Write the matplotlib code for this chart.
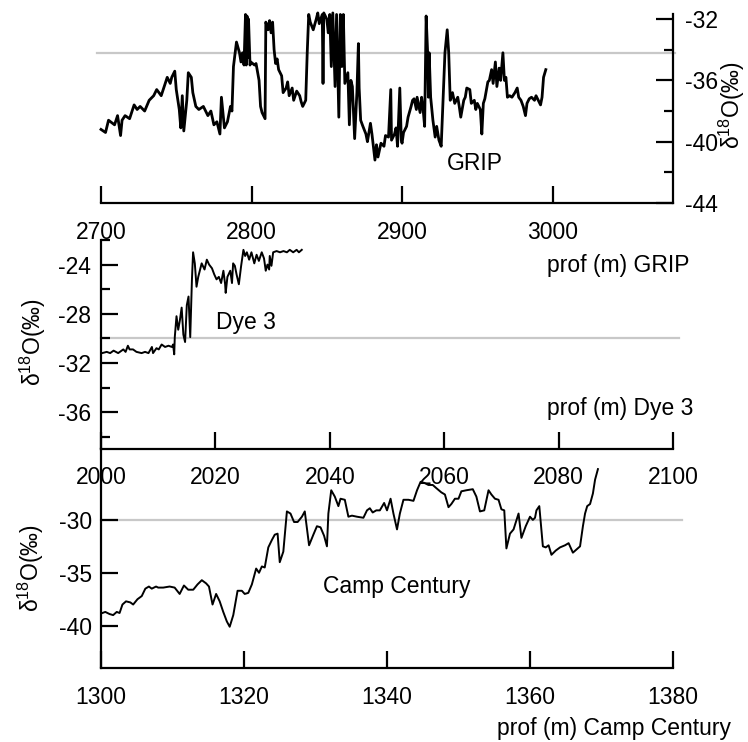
"""
Stacked d18O profiles from three Greenland ice cores (GRIP, Dye 3,
Camp Century), each plotted against depth on its own axis.
"""
import matplotlib
matplotlib.use("Agg")
import matplotlib.pyplot as plt
from matplotlib.ticker import MultipleLocator

plt.rcParams["font.family"] = ["Liberation Sans", "DejaVu Sans"]
plt.rcParams["mathtext.fontset"] = "custom"
plt.rcParams["mathtext.rm"] = "Liberation Sans"
plt.rcParams["mathtext.default"] = "regular"
plt.rcParams["axes.unicode_minus"] = False

# --- GRIP -----------------------------------------------------------------
grip_depth = [
    2700, 2703, 2705, 2709, 2711, 2713, 2714, 2716, 2719, 2722,
    2724, 2726, 2729, 2732, 2735, 2737, 2740, 2742, 2744, 2746,
    2747, 2749, 2750, 2752, 2753, 2754, 2755, 2757, 2758, 2760,
    2761, 2763, 2765, 2768, 2771, 2773, 2775, 2777, 2779, 2780,
    2782, 2784, 2786, 2787, 2788, 2790, 2792, 2793, 2794, 2795,
    2796, 2796.5, 2797, 2797.5, 2798, 2799, 2799.5, 2802, 2803, 2805,
    2806, 2807, 2809, 2809.5, 2811, 2812, 2813, 2814, 2815, 2816,
    2817, 2818, 2820, 2821, 2823, 2824, 2825, 2827, 2828, 2830,
    2832, 2833, 2834, 2836, 2837, 2838, 2839, 2841, 2843, 2844,
    2845, 2847, 2847.5, 2848, 2850, 2851, 2852, 2853, 2854, 2855.5,
    2856.5, 2858, 2859, 2860, 2861, 2862, 2864, 2865, 2866, 2867,
    2868.5, 2870, 2871, 2871.5, 2872.5, 2874, 2876, 2877, 2879, 2880,
    2882, 2883, 2884, 2886, 2888, 2889, 2891, 2892.5, 2893, 2895,
    2896, 2897, 2898.5, 2899.5, 2900, 2901, 2903, 2904, 2906, 2907,
    2908, 2909.5, 2910, 2912, 2913, 2914, 2915, 2916, 2917, 2917.5,
    2918, 2919, 2920.5, 2922, 2923, 2924.5, 2926, 2927, 2928.5, 2930,
    2931, 2932, 2933.5, 2935, 2937, 2938, 2939, 2941, 2942, 2943,
    2945, 2946, 2948, 2949, 2950, 2952, 2953, 2954, 2955, 2957,
    2958, 2959.5, 2960.5, 2962, 2963, 2964.5, 2965.5, 2967, 2968, 2969,
    2970, 2971.5, 2973, 2975, 2976.5, 2977.5, 2979, 2980.5, 2982, 2983,
    2984.5, 2986, 2988, 2989, 2990.5, 2992, 2993, 2994, 2995.5,
]
grip_d18o = [
    -39.2, -39.4, -38.6, -38.9, -38.3, -39.6, -38.6, -38.3, -38.5, -37.6,
    -37.9, -37.7, -38.0, -37.3, -37.0, -36.6, -37.0, -36.4, -35.8, -36.2,
    -35.8, -35.4, -36.6, -37.9, -39.1, -37.0, -39.3, -37.3, -35.5, -35.8,
    -36.8, -37.7, -37.9, -37.7, -38.3, -38.0, -38.9, -38.7, -39.5, -37.1,
    -39.1, -38.7, -37.7, -38.0, -35.1, -33.5, -34.2, -34.8, -34.2, -35.0,
    -31.7, -35.0, -31.8, -34.5, -32.0, -35.0, -34.8, -35.0, -34.9, -36.0,
    -37.7, -38.1, -38.5, -32.2, -32.7, -32.1, -32.9, -32.2, -34.0, -34.9,
    -34.6, -35.3, -35.7, -36.8, -36.5, -36.1, -37.0, -36.5, -37.3, -36.7,
    -37.0, -37.4, -37.7, -37.3, -34.2, -31.7, -32.2, -32.7, -32.0, -31.6,
    -32.3, -31.7, -36.2, -31.6, -32.0, -32.9, -31.7, -35.1, -31.6, -36.4,
    -31.7, -38.4, -31.7, -35.1, -31.7, -36.2, -35.5, -38.9, -36.0, -36.4,
    -39.8, -36.8, -33.6, -36.5, -38.6, -39.0, -39.5, -40.0, -38.8, -39.5,
    -41.2, -40.2, -41.0, -40.1, -40.3, -39.6, -39.7, -36.6, -39.9, -39.5,
    -39.1, -40.3, -36.5, -39.9, -40.1, -39.4, -39.0, -38.4, -37.7, -37.3,
    -37.2, -37.9, -37.1, -38.1, -37.1, -37.9, -39.0, -31.8, -34.2, -37.1,
    -34.2, -37.1, -38.6, -39.7, -39.0, -39.9, -40.3, -37.9, -34.2, -32.7,
    -34.2, -37.3, -36.8, -37.5, -37.1, -37.7, -38.4, -37.3, -37.1, -36.5,
    -36.6, -37.5, -37.3, -37.9, -37.5, -37.9, -39.5, -37.5, -37.2, -36.1,
    -36.0, -35.3, -36.2, -34.8, -36.4, -35.2, -36.0, -34.2, -36.0, -35.8,
    -37.1, -37.0, -37.1, -36.8, -36.5, -37.1, -37.3, -37.7, -38.3, -37.5,
    -37.2, -37.1, -37.3, -37.0, -37.3, -37.6, -37.1, -35.8, -35.3,
]

# --- Dye 3 ----------------------------------------------------------------
dye3_depth = [
    2000.2, 2001.0, 2001.6, 2002.2, 2003.0, 2003.9, 2004.3, 2004.7, 2005.0, 2005.6,
    2006.2, 2007.1, 2007.7, 2008.3, 2008.9, 2009.1, 2009.7, 2010.1, 2010.6, 2011.2,
    2011.8, 2012.4, 2012.6, 2012.8, 2012.9, 2013.2, 2013.5, 2013.8, 2014.1, 2014.4,
    2014.7, 2015.0, 2015.3, 2015.6, 2015.9, 2016.1, 2016.4, 2016.7, 2017.0, 2017.6,
    2018.1, 2018.5, 2018.9, 2019.4, 2019.8, 2020.2, 2020.6, 2021.0, 2021.4, 2021.7,
    2021.8, 2022.1, 2022.6, 2022.9, 2023.1, 2023.4, 2023.7, 2024.1, 2024.5, 2024.9,
    2025.2, 2025.5, 2025.9, 2026.3, 2026.8, 2027.2, 2027.6, 2028.1, 2028.5, 2028.8,
    2029.1, 2029.4, 2029.5, 2029.8, 2030.1, 2030.7, 2031.3, 2031.9, 2032.5, 2033.0,
    2033.6, 2034.2, 2034.6, 2035.1,
]
dye3_d18o = [
    -31.2, -31.1, -31.2, -31.0, -31.2, -30.9, -31.1, -30.6, -30.9, -30.9,
    -31.1, -31.2, -31.1, -31.2, -30.7, -31.2, -30.8, -30.9, -30.5, -30.7,
    -30.6, -30.7, -30.5, -31.3, -29.9, -28.2, -29.3, -28.5, -27.5, -29.7,
    -30.3, -27.3, -26.6, -29.9, -25.2, -23.0, -23.9, -25.8, -25.0, -23.9,
    -24.4, -23.6, -24.0, -24.3, -24.8, -25.2, -25.0, -25.5, -24.5, -25.6,
    -26.3, -25.0, -24.5, -25.5, -23.9, -24.1, -24.8, -25.6, -24.1, -22.8,
    -23.3, -23.0, -23.6, -23.0, -23.9, -23.2, -23.7, -23.0, -23.5, -24.5,
    -24.0, -24.4, -23.3, -24.1, -23.0, -22.9, -23.0, -22.9, -23.0, -22.8,
    -23.0, -22.8, -23.0, -22.8,
]

# --- Camp Century ---------------------------------------------------------
cc_depth = [
    1300.2, 1300.6, 1301.2, 1301.7, 1302.2, 1302.6, 1303.0, 1303.5, 1304.1, 1304.5,
    1305.1, 1305.7, 1306.2, 1306.7, 1307.1, 1307.7, 1308.0, 1308.7, 1309.6, 1310.3,
    1311.0, 1311.6, 1312.2, 1312.9, 1313.5, 1314.1, 1314.7, 1315.1, 1315.6, 1316.1,
    1316.6, 1317.1, 1317.6, 1318.0, 1318.5, 1319.1, 1319.7, 1320.1, 1320.6, 1321.1,
    1321.7, 1322.1, 1322.5, 1322.9, 1323.4, 1323.9, 1324.3, 1324.7, 1325.0, 1325.5,
    1326.0, 1326.5, 1327.0, 1327.5, 1328.1, 1328.5, 1329.1, 1329.7, 1330.2, 1330.7,
    1331.2, 1331.6, 1331.8, 1332.2, 1332.7, 1333.2, 1333.5, 1334.1, 1334.6, 1335.1,
    1335.8, 1336.7, 1337.2, 1337.6, 1338.0, 1338.5, 1339.0, 1339.6, 1340.0, 1340.5,
    1340.9, 1341.4, 1341.8, 1342.3, 1343.0, 1343.7, 1344.2, 1344.7, 1345.2, 1345.8,
    1346.4, 1346.9, 1347.6, 1348.1, 1348.6, 1349.0, 1349.5, 1350.0, 1350.4, 1351.1,
    1352.0, 1352.5, 1353.0, 1353.6, 1354.2, 1354.6, 1355.1, 1355.6, 1356.0, 1356.4,
    1356.7, 1357.2, 1357.7, 1358.4, 1358.8, 1359.4, 1360.0, 1360.4, 1360.7, 1360.9,
    1361.3, 1361.8, 1362.2, 1362.6, 1363.0, 1363.6, 1364.2, 1364.9, 1365.4, 1366.0,
    1366.5, 1367.0, 1367.4, 1367.7, 1368.0, 1368.4, 1368.8, 1369.1, 1369.5,
]
cc_d18o = [
    -38.8, -38.7, -38.9, -39.0, -38.7, -38.8, -38.0, -37.7, -37.8, -38.0,
    -37.5, -37.2, -36.5, -36.3, -36.5, -36.3, -36.4, -36.4, -36.3, -36.4,
    -37.0, -36.2, -36.6, -36.6, -36.1, -35.7, -36.0, -36.3, -38.0, -37.0,
    -37.7, -38.7, -39.6, -40.1, -39.0, -36.7, -36.7, -37.0, -36.9, -36.1,
    -34.6, -35.0, -34.4, -34.5, -32.6, -31.9, -31.4, -31.3, -34.0, -33.0,
    -29.2, -29.4, -30.2, -30.2, -29.7, -29.2, -32.4, -31.4, -30.6, -30.7,
    -31.5, -32.5, -29.4, -27.2, -27.8, -28.7, -28.0, -28.1, -29.7, -29.6,
    -29.7, -29.8, -29.1, -28.9, -29.3, -29.1, -29.1, -28.4, -29.1, -28.0,
    -29.4, -30.9, -29.4, -28.1, -28.1, -28.2, -27.2, -26.4, -26.5, -26.7,
    -26.7, -27.0, -27.4, -27.6, -28.8, -28.5, -28.0, -28.0, -27.3, -27.2,
    -27.1, -27.8, -29.2, -29.1, -27.2, -27.6, -28.0, -28.1, -29.0, -29.1,
    -32.7, -31.3, -30.9, -29.4, -31.7, -30.6, -29.7, -30.0, -29.8, -29.1,
    -28.7, -32.5, -32.6, -32.4, -33.3, -32.9, -32.6, -32.4, -32.2, -33.1,
    -32.8, -32.5, -30.6, -29.4, -28.7, -28.5, -27.5, -26.2, -25.2,
]

# reference levels drawn as grey guide lines, one per panel
grip_ref = -34.2
dye3_ref = -30.0
cc_ref = -30.0

YLABEL = r"δ$^{18}$O(‰)"
FS = 16.5
W, H = 748, 742


def px_rect(left, top, right, bottom):
    """Axes rectangle from pixel edges (origin top-left)."""
    return [left / W, 1 - bottom / H, (right - left) / W, (bottom - top) / H]


def style_ticks(ax):
    ax.tick_params(which="both", direction="in", width=1.6, labelsize=FS,
                   colors="black")
    ax.tick_params(which="major", length=12.5)
    ax.tick_params(which="minor", length=6.5)
    for sp in ax.spines.values():
        sp.set_linewidth(1.6)


fig = plt.figure(figsize=(W / 100, H / 100), dpi=100)

# GRIP: bottom x axis, right y axis
ax1 = fig.add_axes(px_rect(101, 14, 673, 203))
ax1.plot(grip_depth, grip_d18o, color="black", lw=2.0, clip_on=False)
ax1.axhline(grip_ref, xmin=-0.007, xmax=1.003, color="#c8c8c8", lw=1.6,
            clip_on=False, zorder=1)
ax1.set_xlim(2700, 3080)
ax1.set_ylim(-44, -31.67)
ax1.spines["top"].set_visible(False)
ax1.spines["left"].set_visible(False)
ax1.yaxis.tick_right()
ax1.set_xticks([2700, 2800, 2900, 3000])
ax1.set_yticks([-32, -36, -40, -44])
ax1.yaxis.set_minor_locator(MultipleLocator(2))
style_ticks(ax1)
ax1.tick_params(axis="x", pad=13)
ax1.tick_params(axis="y", pad=8.5, left=False, right=True, which="both")
ax1.patch.set_visible(False)

# Dye 3
ax2 = fig.add_axes(px_rect(101, 240, 673, 449))
ax2.plot(dye3_depth, dye3_d18o, color="black", lw=1.4)
ax2.axhline(dye3_ref, xmin=0, xmax=1.01, color="#c8c8c8", lw=1.6,
            clip_on=False, zorder=1)
ax2.set_xlim(2000, 2100)
ax2.set_ylim(-39, -22)
ax2.spines["top"].set_visible(False)
ax2.spines["right"].set_visible(False)
ax2.set_xticks(range(2000, 2101, 20))
ax2.set_yticks([-24, -28, -32, -36])
ax2.yaxis.set_minor_locator(MultipleLocator(2))
style_ticks(ax2)
ax2.tick_params(axis="x", pad=12)
ax2.tick_params(axis="y", pad=7)
ax2.patch.set_visible(False)

# Camp Century
ax3 = fig.add_axes(px_rect(101, 449, 673, 668))
ax3.plot(cc_depth, cc_d18o, color="black", lw=1.4, clip_on=False)
ax3.axhline(cc_ref, xmin=0, xmax=1.016, color="#c8c8c8", lw=1.6,
            clip_on=False, zorder=1)
ax3.set_xlim(1300, 1380)
ax3.set_ylim(-44, -23.3)
ax3.spines["top"].set_visible(False)
ax3.spines["right"].set_visible(False)
ax3.set_xticks(range(1300, 1381, 20))
ax3.set_yticks([-30, -35, -40])
style_ticks(ax3)
ax3.tick_params(axis="x", pad=13)
ax3.tick_params(axis="y", pad=6.5)
ax3.patch.set_visible(False)

# axis titles and core names, placed in pixel coordinates
def fig_text(x, y, s, **kw):
    fig.text(x / W, 1 - y / H, s, ha="center", va="center", fontsize=FS, **kw)


fig_text(732, 105, YLABEL, rotation=90)
fig_text(33, 342, YLABEL, rotation=90)
fig_text(31, 568, YLABEL, rotation=90)
fig_text(475, 163, "GRIP")
fig_text(618, 265, "prof (m) GRIP")
fig_text(246, 322, "Dye 3")
fig_text(620, 408, "prof (m) Dye 3")
fig_text(397, 587, "Camp Century")
fig_text(614, 729, "prof (m) Camp Century")

fig.savefig("out.png", dpi=100)
